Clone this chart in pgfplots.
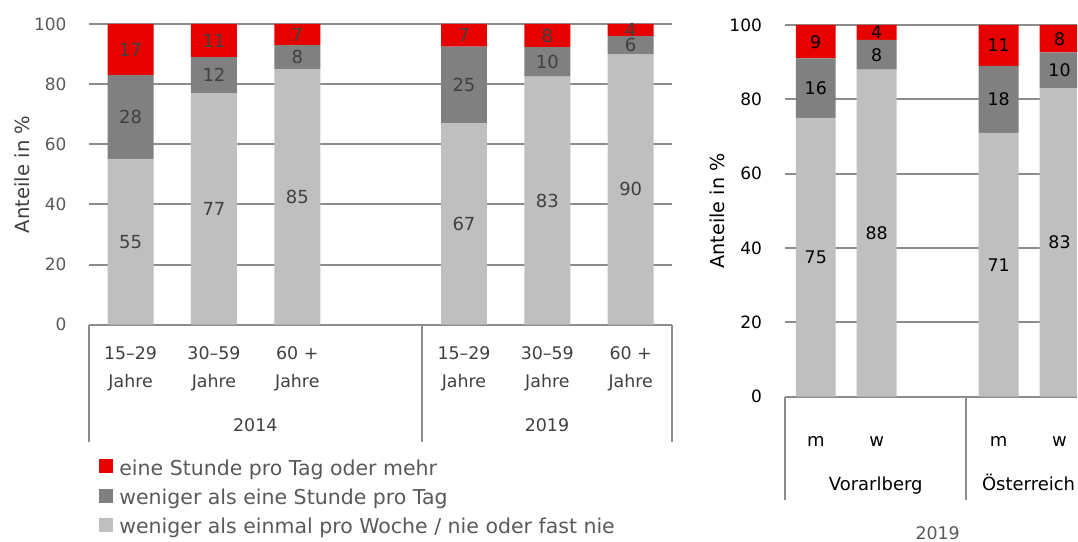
\documentclass[border=0pt]{standalone}
\usepackage{pgfplots}
\pgfplotsset{compat=1.18}
\usepackage{fontspec}
\setmainfont{DejaVu Sans}
\definecolor{cred}{RGB}{230,0,0}
\definecolor{cdark}{RGB}{128,128,128}
\definecolor{clight}{RGB}{191,191,191}
\definecolor{cgrid}{RGB}{140,140,140}
\definecolor{tgray}{RGB}{89,89,89}
\definecolor{tdark}{RGB}{64,64,64}
\pgfplotsset{
  mybase/.style={
    ybar stacked, ymin=0, ymax=100, ytick={0,20,...,100}, enlargelimits=false,
    scale only axis, axis line style={draw=none}, tick style={draw=none},
    ymajorgrids, grid style={cgrid, line width=1pt},
    /pgf/number format/assume math mode=true,
    yticklabel style={anchor=east, inner sep=0pt, xshift=-11pt},
    point meta=explicit symbolic,
    nodes near coords,
    visualization depends on=y \as \rawy,
    every node near coord/.append style={anchor=center, inner sep=0pt},
    anchor=south west,
  }
}
\begin{document}
\begin{tikzpicture}
\path (0,0) rectangle (539pt,271pt);
\begin{axis}[mybase, at={(44.5pt,108.5pt)}, width=292pt, height=150.5pt,
  xmin=-0.5, xmax=6.5, bar width=23pt,
  xtick={0,1,2,4,5,6},
  xticklabels={{15–29\\Jahre},{30–59\\Jahre},{60 +\\Jahre},{15–29\\Jahre},{30–59\\Jahre},{60 +\\Jahre}},
  xticklabel style={align=center, anchor=north, inner sep=0pt, yshift=-10.6pt, font=\fontsize{8.7pt}{14.3pt}\selectfont, text=tdark},
  yticklabel style={font=\fontsize{8.5pt}{10pt}\selectfont, text=tgray},
  every node near coord/.append style={font=\fontsize{9pt}{10pt}\selectfont, text=tdark},
  reverse legend,
  legend style={draw=none, fill=none, at={(rel axis cs:0,0)}, anchor=north west, xshift=4.65pt, yshift=-67.2pt, inner sep=0pt, row sep=5.25pt, font=\fontsize{10.25pt}{12pt}\selectfont, text=tgray, nodes={inner sep=0pt}, /tikz/every odd column/.append style={column sep=3.4pt}},
  legend cell align=left,
  legend image code/.code={\fill[#1] (0pt,-2.2pt) rectangle (7pt,4.8pt);},
]
\addplot[fill=clight, draw=none] coordinates {(0,55)[55] (1,77)[77] (2,85)[85] (4,67)[67] (5,82.5)[83] (6,90)[90]};
\addplot[fill=cdark, draw=none] coordinates {(0,28)[28] (1,12)[12] (2,8)[8] (4,25.5)[25] (5,9.8)[10] (6,6)[6]};
\addplot[fill=cred, draw=none] coordinates {(0,17)[17] (1,11)[11] (2,7)[7] (4,7.5)[7] (5,7.7)[8] (6,4)[4]};
\legend{weniger als einmal pro Woche / nie oder fast nie, weniger als eine Stunde pro Tag, eine Stunde pro Tag oder mehr}
\end{axis}
\begin{axis}[mybase, at={(393pt,72.5pt)}, width=146pt, height=186pt,
  xmin=-0.5, xmax=4.287, bar width=20pt,
  xtick={0,1,3,4}, xticklabels={m,w,m,w},
  xticklabel style={anchor=base, inner sep=0pt, yshift=-24.8pt, font=\fontsize{9pt}{10pt}\selectfont},
  yticklabel style={font=\fontsize{8.5pt}{10pt}\selectfont, xshift=-0.5pt},
  every node near coord/.append style={font=\fontsize{8.7pt}{10pt}\selectfont, text=black},
]
\addplot[fill=clight, draw=none] coordinates {(0,75)[75] (1,88)[88] (3,71)[71] (4,83)[83]};
\addplot[fill=cdark, draw=none] coordinates {(0,16)[16] (1,8)[8] (3,18)[18] (4,9.6)[10]};
\addplot[fill=cred, draw=none] coordinates {(0,9)[9] (1,4)[4] (3,11)[11] (4,7.4)[8]};
\end{axis}
\draw[cgrid, line width=1pt] (44.5pt,108.5pt) -- (44.5pt,50pt) (211pt,108.5pt) -- (211pt,50pt) (336.5pt,108.5pt) -- (336.5pt,50pt);
\draw[cgrid, line width=1pt] (393pt,72.5pt) -- (393pt,21pt) (483.5pt,72.5pt) -- (483.5pt,21pt);
\node[anchor=base, font=\fontsize{8.7pt}{10pt}\selectfont, text=tdark, inner sep=0pt] at (127.75pt,55.15pt) {2014};
\node[anchor=base, font=\fontsize{8.7pt}{10pt}\selectfont, text=tdark, inner sep=0pt] at (273.75pt,55.15pt) {2019};
\node[anchor=base, font=\fontsize{9pt}{10pt}\selectfont, inner sep=0pt] at (438.25pt,25.65pt) {Vorarlberg};
\node[anchor=base, font=\fontsize{9pt}{10pt}\selectfont, inner sep=0pt] at (514.75pt,25.65pt) {Österreich};
\node[anchor=base, font=\fontsize{8.7pt}{10pt}\selectfont, text=tgray, inner sep=0pt] at (469.25pt,1pt) {2019};
\node[rotate=90, font=\fontsize{9.8pt}{12pt}\selectfont, text=tdark, inner sep=0pt] at (11pt,183.75pt) {Anteile in \%};
\node[rotate=90, font=\fontsize{9.6pt}{12pt}\selectfont, inner sep=0pt] at (359pt,165.5pt) {Anteile in \%};
\end{tikzpicture}
\end{document}
